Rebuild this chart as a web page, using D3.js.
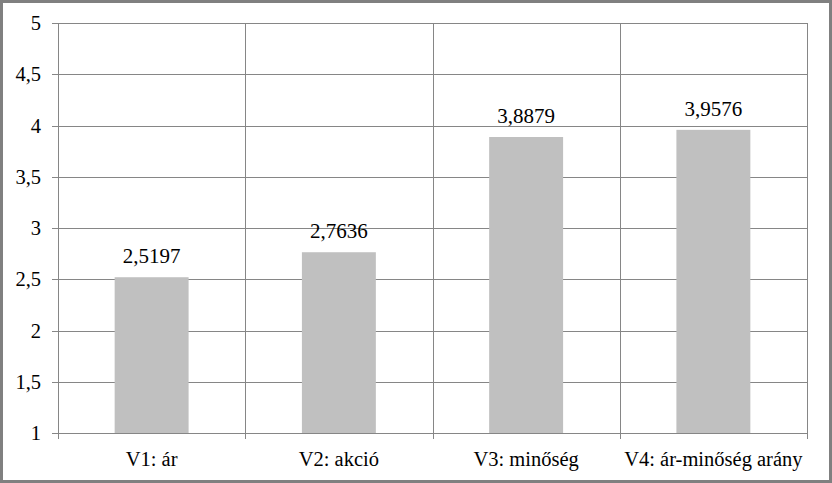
<!DOCTYPE html>
<html>
<head>
<meta charset="utf-8">
<script src="https://cdn.jsdelivr.net/npm/d3@7"></script>
<style>
html,body{margin:0;padding:0;background:#fff;}
svg{display:block;}
</style>
</head>
<body>
<script>
const categories = ["V1: ár", "V2: akció", "V3: minőség", "V4: ár-minőség arány"];
const values = [2.5197, 2.7636, 3.8879, 3.9576];
const valueLabels = ["2,5197", "2,7636", "3,8879", "3,9576"];
const yTicks = [1, 1.5, 2, 2.5, 3, 3.5, 4, 4.5, 5];
const yTickLabels = ["1", "1,5", "2", "2,5", "3", "3,5", "4", "4,5", "5"];

const W = 832, H = 483;
const m = {left: 58, right: 25, top: 23, bottom: 50};
const FONT = "Liberation Serif";
const svg = d3.select("body").append("svg").attr("width", W).attr("height", H);

svg.append("rect").attr("x", 1.5).attr("y", 1.5).attr("width", W - 3).attr("height", H - 3)
  .attr("fill", "#fff").attr("stroke", "#808080").attr("stroke-width", 3);

const x = d3.scaleBand().domain(categories).range([m.left, W - m.right]).paddingInner(0).paddingOuter(0);
const y = d3.scaleLinear().domain([1, 5]).range([H - m.bottom, m.top]);

const g = svg.append("g");
const gridColor = "#868686";

g.selectAll(".hg").data(yTicks).enter().append("line")
  .attr("x1", m.left - 6).attr("x2", W - m.right)
  .attr("y1", d => Math.round(y(d)) + 0.5).attr("y2", d => Math.round(y(d)) + 0.5)
  .attr("stroke", gridColor).attr("stroke-width", 1);

const bounds = categories.map(c => x(c)).concat([x.range()[1]]);
g.selectAll(".vg").data(bounds).enter().append("line")
  .attr("x1", d => Math.round(d) + 0.5).attr("x2", d => Math.round(d) + 0.5)
  .attr("y1", m.top).attr("y2", H - m.bottom + 6)
  .attr("stroke", gridColor).attr("stroke-width", 1);

const bw = x.bandwidth() * 0.395;
g.selectAll(".bar").data(values).enter().append("rect")
  .attr("x", (d, i) => x(categories[i]) + x.bandwidth() / 2 - bw / 2)
  .attr("width", bw)
  .attr("y", d => y(d))
  .attr("height", d => y(1) - y(d))
  .attr("fill", "#c0c0c0");

g.append("line").attr("x1", m.left - 6).attr("x2", W - m.right)
  .attr("y1", Math.round(y(1)) + 0.5).attr("y2", Math.round(y(1)) + 0.5)
  .attr("stroke", gridColor).attr("stroke-width", 1);

g.selectAll(".dl").data(values).enter().append("text")
  .attr("font-family", FONT)
  .attr("x", (d, i) => x(categories[i]) + x.bandwidth() / 2)
  .attr("y", d => y(d) - 14)
  .attr("text-anchor", "middle").attr("font-size", 21).attr("fill", "#000")
  .text((d, i) => valueLabels[i]);

g.selectAll(".yl").data(yTicks).enter().append("text")
  .attr("font-family", FONT)
  .attr("x", m.left - 17)
  .attr("y", d => y(d) + 7)
  .attr("text-anchor", "end").attr("font-size", 20.5).attr("fill", "#000")
  .text((d, i) => yTickLabels[i]);

g.selectAll(".xl").data(categories).enter().append("text")
  .attr("font-family", FONT)
  .attr("x", d => x(d) + x.bandwidth() / 2)
  .attr("y", 466)
  .attr("text-anchor", "middle").attr("font-size", 20.5).attr("fill", "#000")
  .text(d => d);
</script>
</body>
</html>
